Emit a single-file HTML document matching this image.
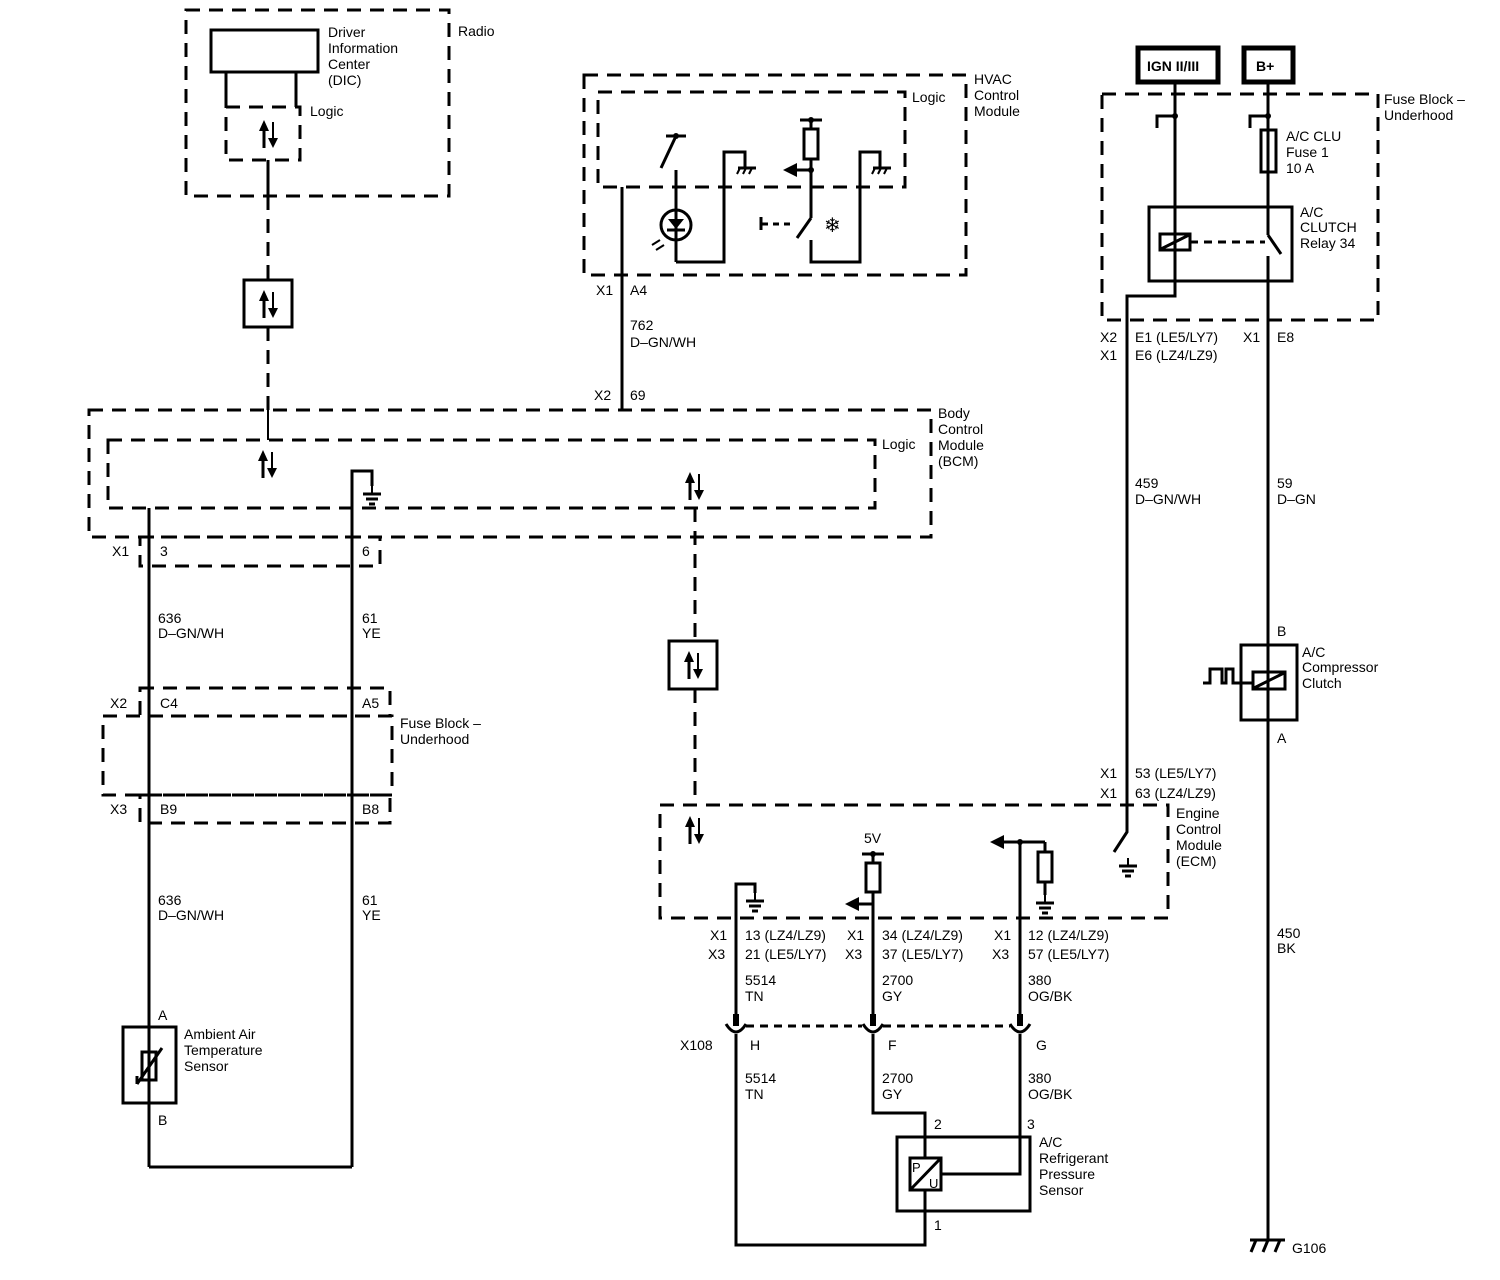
<!DOCTYPE html>
<html><head><meta charset="utf-8"><style>
html,body{margin:0;padding:0;background:#fff}
svg{display:block}
text{font-family:"Liberation Sans",Arial,sans-serif;font-size:14px;fill:#000}
.s{stroke:#000;stroke-width:3;fill:none}
.d{stroke:#000;stroke-width:3;fill:none;stroke-dasharray:14 9}
.t{stroke:#000;stroke-width:2;fill:none}
</style></head><body>
<svg width="1500" height="1280" viewBox="0 0 1500 1280" xmlns="http://www.w3.org/2000/svg">
<defs>
<g id="ud">
<line x1="-4" y1="-10" x2="-4" y2="14" stroke="#000" stroke-width="3"/>
<polygon points="-4,-14 -9,-3 1,-3" fill="#000"/>
<line x1="5" y1="-12" x2="5" y2="12" stroke="#000" stroke-width="2"/>
<polygon points="5,14 0,4 10,4" fill="#000"/>
</g>
<g id="gnd">
<line x1="0" y1="0" x2="0" y2="8" stroke="#000" stroke-width="2"/>
<line x1="-9" y1="8" x2="9" y2="8" stroke="#000" stroke-width="3"/>
<line x1="-6" y1="13" x2="6" y2="13" stroke="#000" stroke-width="3"/>
<line x1="-3" y1="18" x2="3" y2="18" stroke="#000" stroke-width="3"/>
</g>
<g id="cgnd">
<line x1="-8" y1="0" x2="10" y2="0" stroke="#000" stroke-width="3"/>
<line x1="-6" y1="0" x2="-9" y2="6" stroke="#000" stroke-width="2"/>
<line x1="0" y1="0" x2="-3" y2="6" stroke="#000" stroke-width="2"/>
<line x1="6" y1="0" x2="3" y2="6" stroke="#000" stroke-width="2"/>
</g>
</defs>

<!-- Radio -->
<rect x="186" y="10" width="263" height="186" class="d"/>
<rect x="211" y="30" width="107" height="42" class="s"/>
<line x1="226" y1="72" x2="226" y2="107" class="s"/>
<line x1="296" y1="72" x2="296" y2="107" class="s"/>
<rect x="226" y="107" width="74" height="53" class="d"/>
<use href="#ud" x="268" y="134"/>
<text x="328" y="37">Driver</text><text x="328" y="53">Information</text><text x="328" y="69">Center</text><text x="328" y="85">(DIC)</text>
<text x="310" y="116">Logic</text>
<text x="458" y="36">Radio</text>
<line x1="268" y1="160" x2="268" y2="196" class="s"/>
<line x1="268" y1="196" x2="268" y2="280" class="d"/>
<rect x="244" y="280" width="48" height="47" class="s"/>
<use href="#ud" x="268" y="304"/>
<line x1="268" y1="327" x2="268" y2="410" class="d"/>
<line x1="268" y1="410" x2="268" y2="440" class="t"/>

<!-- HVAC -->
<rect x="584" y="75" width="382" height="200" class="d"/>
<rect x="598" y="92" width="307" height="95" class="d"/>
<text x="912" y="102">Logic</text>
<text x="974" y="84">HVAC</text><text x="974" y="100">Control</text><text x="974" y="116">Module</text>
<line x1="622" y1="187" x2="622" y2="410" class="s"/>
<line x1="666" y1="136" x2="686" y2="136" class="s"/><circle cx="676" cy="136" r="3"/>
<line x1="676" y1="136" x2="661" y2="168" class="s"/>
<line x1="676" y1="170" x2="676" y2="262" class="s"/>
<circle cx="676" cy="225" r="15" class="s"/>
<polygon points="668,219 684,219 676,229" fill="#000"/><line x1="667" y1="230" x2="685" y2="230" class="s"/>
<line x1="652" y1="245" x2="660" y2="240" class="t"/><line x1="656" y1="250" x2="664" y2="245" class="t"/>
<polyline points="676,262 724,262 724,152 745,152 745,168" class="s"/>
<use href="#cgnd" x="746" y="168"/>
<line x1="800" y1="120" x2="822" y2="120" class="s"/><circle cx="811" cy="120" r="3"/>
<rect x="804" y="129" width="14" height="30" class="s"/>
<line x1="811" y1="120" x2="811" y2="129" class="s"/>
<line x1="811" y1="159" x2="811" y2="218" class="s"/>
<circle cx="811" cy="170" r="3"/>
<line x1="795" y1="170" x2="811" y2="170" class="s"/><polygon points="783,170 797,163 797,177" fill="#000"/>
<line x1="811" y1="218" x2="797" y2="238" class="s"/>
<line x1="762" y1="224" x2="793" y2="224" class="d" style="stroke-dasharray:6 5"/>
<line x1="761" y1="217" x2="761" y2="230" class="s"/>
<polyline points="811,240 811,262 860,262 860,152 880,152 880,168" class="s"/>
<use href="#cgnd" x="881" y="168"/>
<text x="824" y="232" style="font-size:20px">❄</text>
<text x="596" y="295">X1</text><text x="630" y="295">A4</text>
<text x="630" y="330">762</text><text x="630" y="347">D–GN/WH</text>
<text x="594" y="400">X2</text><text x="630" y="400">69</text>

<!-- BCM -->
<rect x="89" y="410" width="842" height="127" class="d"/>
<rect x="108" y="440" width="767" height="68" class="d"/>
<text x="882" y="449">Logic</text>
<text x="938" y="418">Body</text><text x="938" y="434">Control</text><text x="938" y="450">Module</text><text x="938" y="466">(BCM)</text>
<use href="#ud" x="267" y="464"/>
<use href="#ud" x="694" y="486"/>
<line x1="149" y1="508" x2="149" y2="1167" class="s"/>
<polyline points="352,1167 352,471 372,471 372,486" class="s"/>
<use href="#gnd" x="372" y="486"/>
<rect x="140" y="537" width="240" height="29" class="d"/>
<text x="112" y="556">X1</text><text x="160" y="556">3</text><text x="362" y="556">6</text>
<text x="158" y="623">636</text><text x="158" y="638">D–GN/WH</text>
<text x="362" y="623">61</text><text x="362" y="638">YE</text>
<rect x="140" y="688" width="250" height="28" class="d"/>
<rect x="103" y="716" width="289" height="79" class="d"/>
<rect x="140" y="795" width="250" height="28" class="d"/>
<text x="110" y="708">X2</text><text x="160" y="708">C4</text><text x="362" y="708">A5</text>
<text x="110" y="814">X3</text><text x="160" y="814">B9</text><text x="362" y="814">B8</text>
<text x="400" y="728">Fuse Block –</text><text x="400" y="744">Underhood</text>
<text x="158" y="905">636</text><text x="158" y="920">D–GN/WH</text>
<text x="362" y="905">61</text><text x="362" y="920">YE</text>
<text x="158" y="1020">A</text><text x="158" y="1125">B</text>
<rect x="123" y="1027" width="53" height="76" class="s"/>
<rect x="142" y="1052" width="14" height="28" class="s"/>
<line x1="137" y1="1084" x2="162" y2="1048" class="s"/><line x1="137" y1="1076" x2="137" y2="1084" class="s"/>
<text x="184" y="1039">Ambient Air</text><text x="184" y="1055">Temperature</text><text x="184" y="1071">Sensor</text>
<line x1="149" y1="1167" x2="352" y2="1167" class="s"/>

<!-- middle serial -->
<line x1="695" y1="508" x2="695" y2="640" class="d"/>
<rect x="669" y="641" width="48" height="48" class="s"/>
<use href="#ud" x="693" y="665"/>
<line x1="695" y1="689" x2="695" y2="805" class="d"/>

<!-- ECM -->
<rect x="660" y="805" width="508" height="113" class="d"/>
<use href="#ud" x="694" y="830"/>
<text x="1176" y="818">Engine</text><text x="1176" y="834">Control</text><text x="1176" y="850">Module</text><text x="1176" y="866">(ECM)</text>
<polyline points="736,1022 736,884 755,884 755,893" class="s"/>
<use href="#gnd" x="755" y="893"/>
<text x="864" y="843">5V</text>
<line x1="862" y1="854" x2="884" y2="854" class="s"/><circle cx="873" cy="854" r="3"/>
<rect x="866" y="863" width="14" height="29" class="s"/>
<line x1="873" y1="854" x2="873" y2="863" class="s"/>
<line x1="873" y1="892" x2="873" y2="1022" class="s"/>
<line x1="858" y1="904" x2="873" y2="904" class="s"/><polygon points="845,904 859,897 859,911" fill="#000"/>
<line x1="1020" y1="842" x2="1020" y2="1022" class="s"/><circle cx="1020" cy="842" r="3"/>
<line x1="1003" y1="842" x2="1045" y2="842" class="s"/><polygon points="990,842 1004,835 1004,849" fill="#000"/>
<line x1="1045" y1="842" x2="1045" y2="852" class="s"/>
<rect x="1038" y="852" width="14" height="30" class="s"/>
<line x1="1045" y1="882" x2="1045" y2="895" class="s"/>
<use href="#gnd" x="1045" y="895"/>
<polyline points="1175,82 1175,296 1127,296 1127,832 1114,852" class="s"/>
<use href="#gnd" x="1128" y="858"/>
<text x="710" y="940">X1</text><text x="745" y="940">13 (LZ4/LZ9)</text>
<text x="708" y="959">X3</text><text x="745" y="959">21 (LE5/LY7)</text>
<text x="847" y="940">X1</text><text x="882" y="940">34 (LZ4/LZ9)</text>
<text x="845" y="959">X3</text><text x="882" y="959">37 (LE5/LY7)</text>
<text x="994" y="940">X1</text><text x="1028" y="940">12 (LZ4/LZ9)</text>
<text x="992" y="959">X3</text><text x="1028" y="959">57 (LE5/LY7)</text>
<text x="745" y="985">5514</text><text x="745" y="1001">TN</text>
<text x="882" y="985">2700</text><text x="882" y="1001">GY</text>
<text x="1028" y="985">380</text><text x="1028" y="1001">OG/BK</text>
<!-- X108 -->
<line x1="746" y1="1026" x2="862" y2="1026" class="d" style="stroke-dasharray:8 6"/>
<line x1="883" y1="1026" x2="1010" y2="1026" class="d" style="stroke-dasharray:8 6"/>
<path d="M726,1024 Q736,1040 746,1024" class="s"/>
<path d="M863,1024 Q873,1040 883,1024" class="s"/>
<path d="M1010,1024 Q1020,1040 1030,1024" class="s"/>
<rect x="733" y="1014" width="6" height="12"/><rect x="870" y="1014" width="6" height="12"/><rect x="1017" y="1014" width="6" height="12"/>
<text x="680" y="1050">X108</text><text x="750" y="1050">H</text><text x="888" y="1050">F</text><text x="1036" y="1050">G</text>
<text x="745" y="1083">5514</text><text x="745" y="1099">TN</text>
<text x="882" y="1083">2700</text><text x="882" y="1099">GY</text>
<text x="1028" y="1083">380</text><text x="1028" y="1099">OG/BK</text>
<polyline points="736,1034 736,1245 925,1245 925,1190" class="s"/>
<polyline points="873,1034 873,1113 925,1113 925,1158" class="s"/>
<polyline points="1020,1034 1020,1174 941,1174" class="s"/>
<rect x="897" y="1137" width="133" height="74" class="s"/>
<rect x="910" y="1158" width="31" height="32" class="s"/>
<line x1="911" y1="1189" x2="940" y2="1159" class="s"/>
<text x="912" y="1172" style="font-size:13px">P</text><text x="929" y="1188" style="font-size:13px">U</text>
<text x="934" y="1129">2</text><text x="1027" y="1129">3</text><text x="934" y="1230">1</text>
<text x="1039" y="1147">A/C</text><text x="1039" y="1163">Refrigerant</text><text x="1039" y="1179">Pressure</text><text x="1039" y="1195">Sensor</text>

<!-- Right power -->
<rect x="1138" y="48" width="80" height="34" class="s" style="stroke-width:5"/>
<text x="1147" y="71" style="font-weight:bold">IGN II/III</text>
<rect x="1244" y="48" width="49" height="34" class="s" style="stroke-width:5"/>
<text x="1256" y="71" style="font-weight:bold">B+</text>
<rect x="1102" y="94" width="276" height="226" class="d"/>
<text x="1384" y="104">Fuse Block –</text><text x="1384" y="120">Underhood</text>
<polyline points="1157,128 1157,116 1175,116" class="s"/><circle cx="1175" cy="116" r="3"/>
<polyline points="1250,128 1250,116 1268,116" class="s"/><circle cx="1268" cy="116" r="3"/>
<line x1="1268" y1="82" x2="1268" y2="235" class="s"/>
<rect x="1261" y="130" width="15" height="42" class="s"/>
<text x="1286" y="141">A/C CLU</text><text x="1286" y="157">Fuse 1</text><text x="1286" y="173">10 A</text>
<rect x="1149" y="207" width="143" height="74" class="s"/>
<rect x="1160" y="234" width="30" height="16" class="s"/>
<line x1="1161" y1="249" x2="1189" y2="235" class="s"/>
<line x1="1190" y1="242" x2="1265" y2="242" class="d" style="stroke-dasharray:8 6"/>
<line x1="1268" y1="235" x2="1281" y2="254" class="s"/>
<line x1="1268" y1="256" x2="1268" y2="1240" class="s"/>
<text x="1300" y="217">A/C</text><text x="1300" y="232">CLUTCH</text><text x="1300" y="248">Relay 34</text>
<text x="1100" y="342">X2</text><text x="1135" y="342">E1 (LE5/LY7)</text><text x="1243" y="342">X1</text><text x="1277" y="342">E8</text>
<text x="1100" y="360">X1</text><text x="1135" y="360">E6 (LZ4/LZ9)</text>
<text x="1135" y="488">459</text><text x="1135" y="504">D–GN/WH</text>
<text x="1277" y="488">59</text><text x="1277" y="504">D–GN</text>
<text x="1277" y="636">B</text>
<rect x="1241" y="645" width="56" height="75" class="s"/>
<rect x="1253" y="672" width="32" height="17" class="s"/>
<line x1="1254" y1="688" x2="1284" y2="673" class="s"/>
<polyline points="1203,683 1210,683 1210,669 1222,669 1222,683 1226,683 1226,669 1233,669 1233,683 1253,683" class="s"/>
<text x="1277" y="743">A</text>
<text x="1302" y="657">A/C</text><text x="1302" y="672">Compressor</text><text x="1302" y="688">Clutch</text>
<text x="1100" y="778">X1</text><text x="1135" y="778">53 (LE5/LY7)</text>
<text x="1100" y="798">X1</text><text x="1135" y="798">63 (LZ4/LZ9)</text>
<text x="1277" y="938">450</text><text x="1277" y="953">BK</text>
<line x1="1250" y1="1240" x2="1285" y2="1240" class="s"/>
<line x1="1256" y1="1240" x2="1251" y2="1252" class="s"/>
<line x1="1268" y1="1240" x2="1263" y2="1252" class="s"/>
<line x1="1280" y1="1240" x2="1275" y2="1252" class="s"/>
<text x="1292" y="1253">G106</text>
</svg>
</body></html>
